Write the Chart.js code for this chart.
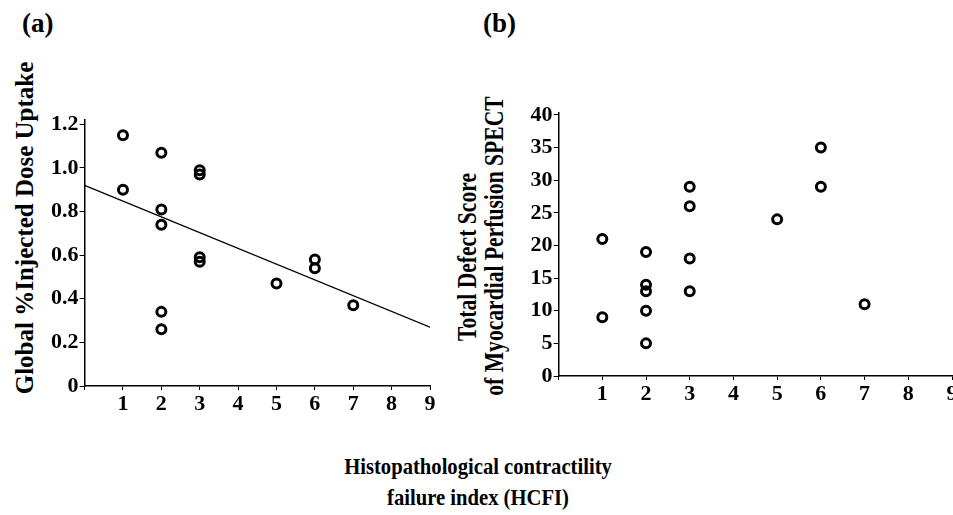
<!DOCTYPE html>
<html>
<head>
<meta charset="utf-8">
<script src="https://cdn.jsdelivr.net/npm/chart.js@4.4.1/dist/chart.umd.min.js"></script>
<style>
html, body { margin: 0; padding: 0; width: 953px; height: 515px; overflow: hidden; background: #fff; }
body { position: relative; font-family: 'Liberation Serif', 'Times New Roman', serif; font-weight: bold; color: #000; }
canvas { position: absolute; top: 0; }
#chartA { left: 0; }
#chartB { left: 470px; }
.txt { position: absolute; white-space: nowrap; line-height: 1; }
.rot { transform: translate(-50%, -50%) rotate(-90deg); text-align: center; }
.rotn { transform: translate(-50%, -50%) rotate(-90deg) scaleX(0.8); text-align: center; }
</style>
</head>
<body>
<div class="txt" style="left:22px;top:10px;font-size:27px">(a)</div>
<div class="txt" style="left:483px;top:10px;font-size:27px">(b)</div>
<div class="txt rot" style="left:24px;top:228px;font-size:25px">Global %Injected Dose Uptake</div>
<div class="txt rotn" style="left:467px;top:257px;font-size:27px">Total Defect Score</div>
<div class="txt rotn" style="left:494px;top:246px;font-size:27px">of Myocardial Perfusion SPECT</div>
<div class="txt" style="left:478px;top:451px;font-size:24px;line-height:31px;transform:translateX(-50%) scaleX(0.86);text-align:center">Histopathological contractility<br>failure index (HCFI)</div>

<canvas id="chartA" width="470" height="416"></canvas>
<canvas id="chartB" width="520" height="406"></canvas>

<script>
// tick positions and labels
const hcfiTicks = [0, 1, 2, 3, 4, 5, 6, 7, 8, 9];
const hcfiLabels = ['', '1', '2', '3', '4', '5', '6', '7', '8', '9'];
const uptakeTicks = [0, 0.2, 0.4, 0.6, 0.8, 1.0, 1.2];
const uptakeLabels = ['0', '0.2', '0.4', '0.6', '0.8', '1.0', '1.2'];
const defectTicks = [0, 5, 10, 15, 20, 25, 30, 35, 40];
const defectLabels = ['0', '5', '10', '15', '20', '25', '30', '35', '40'];

// panel (a)
const hcfiA = [1, 1, 2, 2, 2, 2, 2, 3, 3, 3, 3, 5, 6, 6, 7];
const uptake = [1.15, 0.90, 1.07, 0.81, 0.74, 0.34, 0.26, 0.99, 0.97, 0.59, 0.57, 0.47, 0.58, 0.54, 0.37];
const fitX = [0, 9];
const fitY = [0.92, 0.27];

// panel (b)
const hcfiB = [1, 1, 2, 2, 2, 2, 2, 3, 3, 3, 3, 5, 6, 6, 7];
const defect = [21, 9, 19, 14, 13, 10, 5, 29, 26, 18, 13, 24, 35, 29, 11];

const tickFont = { family: 'Liberation Serif', weight: 'bold', size: 22 };

function axis(min, max, ticks, labels, size, isX) {
    return {
        type: 'linear',
        min: min,
        max: max,
        afterBuildTicks: function(s) { s.ticks = ticks.map(v => ({ value: v })); },
        afterFit: function(s) { if (isX) s.height = size; else s.width = size; },
        grid: { drawOnChartArea: false, drawTicks: true, tickLength: isX ? 4 : 5, color: '#000', lineWidth: 1 },
        border: { display: true, color: '#000', width: 1.5 },
        ticks: {
            color: '#000',
            font: tickFont,
            padding: isX ? 1 : 1,
            autoSkip: false,
            maxRotation: 0,
            callback: function(v, i) { return labels[i]; }
        }
    };
}

function points(xs, ys) {
    return xs.map((x, i) => ({ x: x, y: ys[i] }));
}

const circleStyle = {
    pointRadius: 4.5,
    pointHoverRadius: 4.5,
    pointBorderWidth: 3,
    borderColor: '#000',
    backgroundColor: 'rgba(0,0,0,0)',
    clip: false
};

new Chart(document.getElementById('chartA'), {
    type: 'scatter',
    data: {
        datasets: [
            Object.assign({ data: points(hcfiA, uptake) }, circleStyle),
            {
                data: points(fitX, fitY),
                showLine: true,
                pointRadius: 0,
                borderColor: '#000',
                borderWidth: 1.2
            }
        ]
    },
    options: {
        responsive: false,
        animation: false,
        devicePixelRatio: 1,
        layout: { padding: { top: 120, right: 40, bottom: 0, left: 0 } },
        plugins: { legend: { display: false }, tooltip: { enabled: false } },
        scales: {
            x: axis(0, 9, hcfiTicks, hcfiLabels, 30, true),
            y: axis(0, 1.22, uptakeTicks, uptakeLabels, 84.6, false)
        }
    }
});

new Chart(document.getElementById('chartB'), {
    type: 'scatter',
    data: {
        datasets: [
            Object.assign({ data: points(hcfiB, defect) }, circleStyle)
        ]
    },
    options: {
        responsive: false,
        animation: false,
        devicePixelRatio: 1,
        layout: { padding: { top: 113, right: 38, bottom: 0, left: 0 } },
        plugins: { legend: { display: false }, tooltip: { enabled: false } },
        scales: {
            x: axis(0, 9, hcfiTicks, hcfiLabels, 30, true),
            y: axis(0, 40.3, defectTicks, defectLabels, 88.6, false)
        }
    }
});
</script>
</body>
</html>
